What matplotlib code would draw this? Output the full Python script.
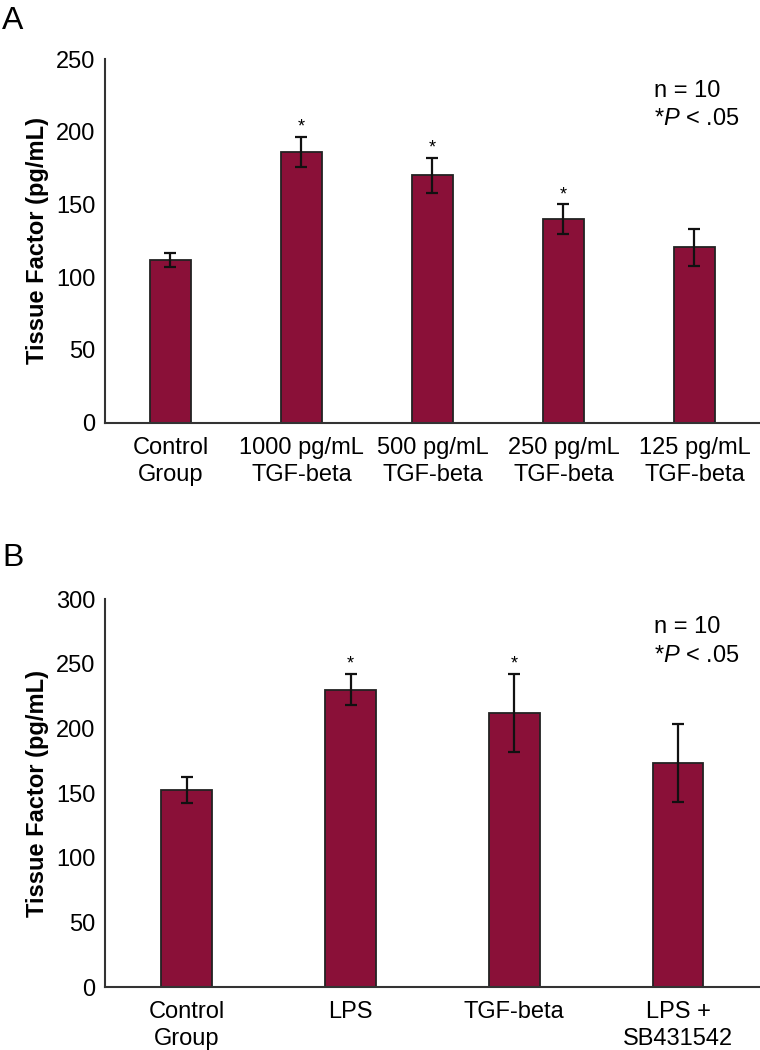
import numpy as np
import matplotlib
matplotlib.use("Agg")
import matplotlib.pyplot as plt

plt.rcParams['font.family'] = ['Liberation Sans', 'DejaVu Sans']
plt.rcParams['mathtext.fontset'] = 'custom'
plt.rcParams['mathtext.rm'] = 'Liberation Sans'
plt.rcParams['mathtext.it'] = 'Liberation Sans:italic'

# panel A data
labels_a = ["Control\nGroup", "1000 pg/mL\nTGF-beta", "500 pg/mL\nTGF-beta",
            "250 pg/mL\nTGF-beta", "125 pg/mL\nTGF-beta"]
values_a = [112, 186, 170, 140, 120.5]
errors_a = [5, 10.5, 12, 10, 12.5]
signif_a = [False, True, True, True, False]

# panel B data
labels_b = ["Control\nGroup", "LPS", "TGF-beta", "LPS +\nSB431542"]
values_b = [152, 230, 212, 173]
errors_b = [10, 12, 30, 30]
signif_b = [False, True, True, False]

bar_color = '#8a1038'
edge_color = '#222222'
fs = 17


def draw_panel(ax, labels, values, errors, signif, ymax, letter, note_y):
    x = np.arange(len(values))
    ax.bar(x, values, width=0.31, color=bar_color, edgecolor=edge_color, linewidth=1.3,
           yerr=errors, error_kw=dict(ecolor='#111111', elinewidth=1.6, capsize=4, capthick=1.6))
    for xi, v, e, s in zip(x, values, errors, signif):
        if s:
            ax.annotate('*', (xi, v + e), xytext=(0, 1), textcoords='offset points',
                        ha='center', va='bottom', fontsize=13)
    ax.set_xlim(-0.5, len(values) - 0.5)
    ax.set_ylim(0, ymax)
    ax.set_yticks(np.arange(0, ymax + 1, 50))
    ax.set_xticks(x)
    ax.set_xticklabels(labels, fontsize=fs, linespacing=1.3)
    ax.tick_params(axis='y', length=0, pad=7, labelsize=fs)
    ax.tick_params(axis='x', length=0, pad=10)
    for side in ['top', 'right']:
        ax.spines[side].set_visible(False)
    for side in ['left', 'bottom']:
        ax.spines[side].set_color('#333333')
        ax.spines[side].set_linewidth(1.5)
    ax.set_ylabel('Tissue Factor (pg/mL)', fontsize=fs, fontweight='bold', labelpad=5)
    ax.text(0.838, note_y[0], 'n = 10', transform=ax.transAxes, fontsize=fs,
            ha='left', va='center')
    ax.text(0.838, note_y[1], '*$P$ < .05', transform=ax.transAxes, fontsize=fs,
            ha='left', va='center')
    ax.text(-0.157, 1.105, letter, transform=ax.transAxes, fontsize=23, ha='left', va='center')


fig = plt.figure(figsize=(7.6, 10.5), dpi=100)
ax_a = fig.add_axes([0.138, 0.5974, 0.862, 0.3464])
ax_b = fig.add_axes([0.138, 0.06, 0.862, 0.3695])

draw_panel(ax_a, labels_a, values_a, errors_a, signif_a, 250, 'A', (0.912, 0.835))
draw_panel(ax_b, labels_b, values_b, errors_b, signif_b, 300, 'B', (0.928, 0.853))

fig.savefig('out.png', dpi=100)
